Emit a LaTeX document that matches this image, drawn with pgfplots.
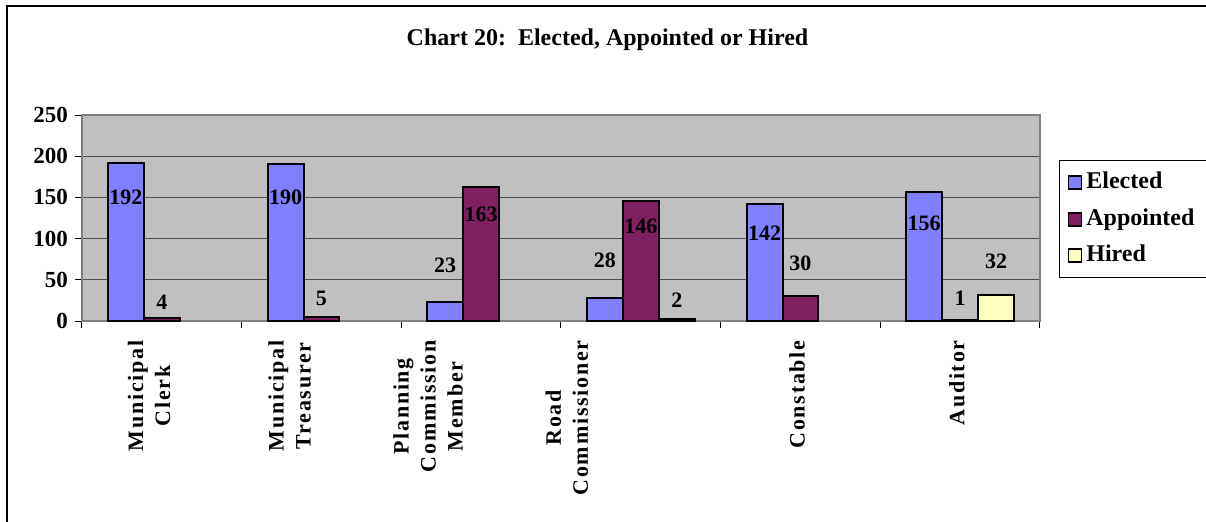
\documentclass[border=0pt]{standalone}
\usepackage{fontspec}
\setmainfont{Liberation Serif}
\newfontfamily\catfont[LetterSpace=8]{Liberation Serif}
\usepackage{pgfplots}
\pgfplotsset{compat=1.18}
\definecolor{elected}{RGB}{128,128,255}
\definecolor{appointed}{RGB}{128,32,96}
\definecolor{hired}{RGB}{255,255,192}
\definecolor{plotbg}{RGB}{192,192,192}
\definecolor{gridc}{RGB}{80,80,80}
\definecolor{framec}{RGB}{128,128,128}

\begin{document}
\begin{tikzpicture}
\useasboundingbox (0pt,0pt) rectangle (603pt,-260.5pt);
% chart frame (only left and top edges are visible)
\draw[line width=0.6pt] (3.5pt,-265pt) -- (3.5pt,-3pt) -- (610pt,-3pt);
\node[font=\fontsize{12}{14}\selectfont\bfseries, anchor=base] at (303.75pt,-22.5pt)
  {Chart 20:\ \ Elected, Appointed or Hired};
\begin{axis}[
    at={(41pt,-160.5pt)}, anchor=south west,
    scale only axis, width=479pt, height=103pt,
    xmin=-0.5, xmax=5.5, ymin=0, ymax=250,
    ytick={0,50,100,150,200,250},
    xtick={-0.5,0.5,1.5,2.5,3.5,4.5,5.5},
    xticklabels={},
    extra x ticks={-0.08,0.80,1.667,2.537,3.978,4.98},
    extra x tick labels={{Municipal\\Clerk},{Municipal\\Treasurer},{Planning\\Commission\\Member},{Road\\Commissioner},Constable,Auditor},
    extra x tick style={major tick length=0pt,
        tick label style={rotate=90, anchor=east, align=center, inner sep=0pt, xshift=-9.5pt,
            font=\catfont\fontsize{11}{13.5}\selectfont\bfseries}},
    tick pos=left, tick align=outside,
    major tick length=3.5pt,
    tick style={black, line width=0.5pt},
    ymajorgrids, major grid style={gridc, line width=0.5pt},
    axis background/.style={fill=plotbg},
    axis line style={framec, line width=1pt},
    yticklabel style={font=\fontsize{11.5}{13}\selectfont\bfseries},
    /pgf/number format/assume math mode=true,
    legend style={at={(1.0198,0.7816)}, anchor=north west, draw=black, line width=0.6pt,
        fill=white, font=\fontsize{12}{14}\selectfont\bfseries,
        inner xsep=4pt, inner ysep=5.5pt, row sep=7.25pt, column sep=2pt,
        nodes={inner sep=0pt, text height=8.5pt, text depth=2.5pt, text width=64pt}},
    legend cell align=left,
]
\addplot[ybar, bar width=0.225, bar shift=-0.225, fill=elected, draw=black, line width=1pt,
    legend image code/.code={\draw[fill=elected,draw=black,line width=0.9pt] (0pt,-3.25pt) rectangle (6.5pt,3.25pt);}]
    coordinates {(0,192) (1,190) (2,23) (3,28) (4,142) (5,156)};
\addplot[ybar, bar width=0.225, bar shift=0, fill=appointed, draw=black, line width=1pt,
    legend image code/.code={\draw[fill=appointed,draw=black,line width=0.9pt] (0pt,-3.25pt) rectangle (6.5pt,3.25pt);}]
    coordinates {(0,4) (1,5) (2,163) (3,146) (4,30) (5,1)};
\addplot[ybar, bar width=0.225, bar shift=0.225, fill=hired, draw=black, line width=1pt,
    legend image code/.code={\draw[fill=hired,draw=black,line width=0.9pt] (0pt,-3.25pt) rectangle (6.5pt,3.25pt);}]
    coordinates {(3,2) (5,32)};
% value labels, placed where the original chart shows them
\addplot[forget plot, draw=none, no markers, nodes near coords, point meta=explicit symbolic,
    every node near coord/.style={font=\fontsize{11}{13}\selectfont\bfseries, anchor=center, inner sep=0pt, black}]
    coordinates {(-0.225,150)[192] (0,23)[4] (0.775,150)[190] (1,28)[5]
                 (1.775,68)[23] (2,129)[163] (2.775,74)[28] (3,115)[146] (3.225,25.5)[2]
                 (3.775,107)[142] (4,70)[30] (4.775,119)[156] (5,28)[1] (5.225,72)[32]};
\legend{Elected,Appointed,Hired}
\end{axis}
\end{tikzpicture}
\end{document}
